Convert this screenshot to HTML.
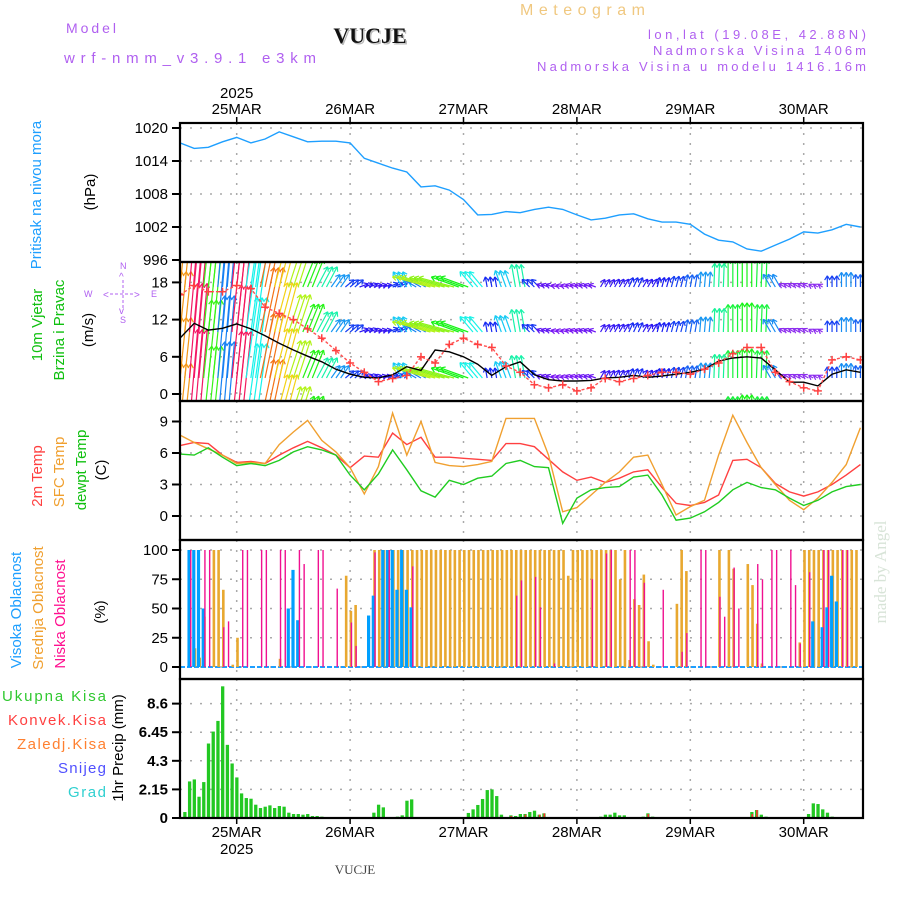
<!DOCTYPE html>
<html><head><meta charset="utf-8"><style>
html,body{margin:0;padding:0;background:#fff;}
svg{display:block;}
text{font-family:"Liberation Sans",sans-serif;}
</style></head><body>
<svg id="chart" width="900" height="900" viewBox="0 0 900 900" xmlns="http://www.w3.org/2000/svg">
<defs><clipPath id="windclip"><rect x="180" y="262" width="683" height="139"/></clipPath>
<clipPath id="presclip"><rect x="180" y="123" width="683" height="139"/></clipPath></defs>
<g>
<text x="66" y="33" fill="#b060f0" font-size="14" textLength="50">Model</text>
<text x="64" y="63" fill="#b060f0" font-size="15" textLength="252">wrf-nmm_v3.9.1 e3km</text>
<text x="370" y="43" fill="#bbb" font-size="22" font-weight="bold" text-anchor="middle" style="font-family:'Liberation Serif',serif" transform="translate(1.5,1.5)">VUCJE</text>
<text x="370" y="43" fill="#111" font-size="22" font-weight="bold" text-anchor="middle" style="font-family:'Liberation Serif',serif">VUCJE</text>
<text x="520" y="15" fill="#f0c880" font-size="16" textLength="125">Meteogram</text>
<text x="866" y="39" fill="#b060f0" font-size="13" text-anchor="end" textLength="218">lon,lat (19.08E, 42.88N)</text>
<text x="866" y="55" fill="#b060f0" font-size="13" text-anchor="end" textLength="213">Nadmorska Visina 1406m</text>
<text x="866" y="71" fill="#b060f0" font-size="13" text-anchor="end" textLength="329">Nadmorska Visina u modelu 1416.16m</text>
</g>
<g id="labels">
<text transform="translate(41,195) rotate(-90)" fill="#1e9fff" font-size="15" text-anchor="middle">Pritisak na nivou mora</text>
<text transform="translate(95,192) rotate(-90)" fill="#000" font-size="15" text-anchor="middle">(hPa)</text>
<text transform="translate(42,325) rotate(-90)" fill="#10c010" font-size="15" text-anchor="middle">10m Vjetar</text>
<text transform="translate(64,330) rotate(-90)" fill="#10c010" font-size="15" text-anchor="middle">Brzina i Pravac</text>
<text transform="translate(93,330) rotate(-90)" fill="#000" font-size="15" text-anchor="middle">(m/s)</text>
<g fill="#b060f0" font-size="9">
<text x="120" y="269">N</text><text x="120" y="323">S</text><text x="84" y="297">W</text><text x="151" y="297">E</text>
<text x="119" y="280" font-size="10">^</text><text x="103" y="298" font-size="10">&lt;</text><text x="134" y="298" font-size="10">&gt;</text><text x="119" y="314" font-size="10">v</text>
<line x1="110" y1="294" x2="133" y2="294" stroke="#b060f0" stroke-dasharray="3,2"/><line x1="123" y1="280" x2="123" y2="308" stroke="#b060f0" stroke-dasharray="3,2"/>
</g>
<text transform="translate(42,476) rotate(-90)" fill="#ff4040" font-size="15" text-anchor="middle">2m Temp</text>
<text transform="translate(64,472) rotate(-90)" fill="#f0a030" font-size="15" text-anchor="middle">SFC Temp</text>
<text transform="translate(86,470) rotate(-90)" fill="#10c010" font-size="15" text-anchor="middle">dewpt Temp</text>
<text transform="translate(106,470) rotate(-90)" fill="#000" font-size="15" text-anchor="middle">(C)</text>
<text transform="translate(21,610) rotate(-90)" fill="#1e9fff" font-size="15" text-anchor="middle">Visoka Oblacnost</text>
<text transform="translate(43,608) rotate(-90)" fill="#f0a030" font-size="15" text-anchor="middle">Srednja Oblacnost</text>
<text transform="translate(65,614) rotate(-90)" fill="#ff1090" font-size="15" text-anchor="middle">Niska Oblacnost</text>
<text transform="translate(105,612) rotate(-90)" fill="#000" font-size="15" text-anchor="middle">(%)</text>
<g font-size="15" text-anchor="end">
<text x="106" y="701" fill="#30c830" textLength="104">Ukupna Kisa</text>
<text x="106" y="725" fill="#ff4040" textLength="98">Konvek.Kisa</text>
<text x="106" y="749" fill="#ff8030" textLength="89">Zaledj.Kisa</text>
<text x="106" y="773" fill="#5050ff" textLength="48">Snijeg</text>
<text x="106" y="797" fill="#30d0d0" textLength="38">Grad</text>
</g>
<text transform="translate(123,748) rotate(-90)" fill="#000" font-size="15" text-anchor="middle">1hr Precip (mm)</text>
<text transform="translate(886,572) rotate(-90)" fill="#d8e4d8" font-size="17" text-anchor="middle" style="font-family:'Liberation Serif',serif">made by Angel</text>
<text x="355" y="874" fill="#444" font-size="13" text-anchor="middle" style="font-family:'Liberation Serif',serif">VUCJE</text>
</g>
<g id="plot"></g>
</svg>
<script>
const dayLabels = ["25MAR","26MAR","27MAR","28MAR","29MAR","30MAR"];
const dayHours = [12,36,60,84,108,132];
const presTicks = [1020,1014,1008,1002,996];
const windTicks = [18,12,6,0];
const tempTicks = [9,6,3,0];
const cloudTicks = [100,75,50,25,0];
const precipTicks = [8.6,6.45,4.3,2.15,0];
// 3-hourly series, starting 24MAR 12Z
const pressure = [1017.3,1016.3,1016.5,1017.5,1018.3,1017.3,1018,1019.3,1018.4,1017.5,1017.6,1017.6,1017.3,1014.5,1013.6,1012.7,1012,1009.3,1009.5,1008.7,1007,1004.2,1004.3,1004.8,1004.6,1005.2,1005.6,1005.2,1004.2,1003.3,1003.6,1004.2,1004.4,1003.5,1002.9,1002.9,1002.5,1000.7,999.6,999.3,998,997.6,998.7,999.8,1001.1,1000.9,1001.5,1002.5,1002];
const windSpeed = [9,11.4,10.3,10.6,11.3,10.5,9.4,8.2,7.1,6.1,5.2,4,3.2,2.7,2.6,3.1,4.4,3.8,7.1,6.8,6,4.8,3,4.4,5.2,3.1,2.3,2.1,2.1,2.2,2.6,2.7,3,2.7,2.9,3.2,3.5,4,5.3,5.8,6,5.8,3.9,1.9,1.9,1.3,3.2,3.9,3.5];
const windGust = [16,17.5,16.5,16.5,17.5,17,14,13,12,10.5,9,7,5,3.5,2,2.5,3,6,5,8,9,8,7.5,4.5,3.5,1.5,1,1.5,0.5,1,2.5,2,2.5,3,3.5,3.5,3.2,4,5,6.5,7.5,7.5,3.5,2,1,0.5,5.5,6,5.5];
const windAngle = [84,85,84,85,84,82,78,75,72,68,62,55,40,20,15,20,120,150,165,165,160,130,100,110,100,135,160,165,160,160,60,60,65,60,75,75,80,85,88,90,90,88,120,150,150,150,90,90,90];
const temp2m = [6.7,7,6.9,5.8,5.1,5.2,5,5.8,6.5,7.1,6.5,5.8,4.6,5.7,5.6,7.9,6.8,7.5,5.6,5.6,5.5,5.4,5.3,6.9,6.9,6.6,5.4,4.2,3.4,3.7,3.2,3.6,4.2,4.4,2.7,1.2,1,1.3,2,5.3,5.4,4.6,3.1,2.3,1.9,2.3,3,3.9,4.9];
const tempSfc = [7.7,7,6.4,5.8,5,5.1,5,6.8,8,9.1,7.2,6.1,4.6,2.1,4.7,9.8,5.8,9,5.1,4.8,4.7,4.9,5.2,9.3,9.3,9.3,5.8,0.4,0.8,2,3.2,4.2,5.6,5.8,3,0.1,0.9,1.5,5.8,9.6,7,4.6,3,1.5,0.6,1.7,3.2,4.9,8.4];
const dewpt = [5.9,5.8,6.5,5.6,4.8,5,4.8,5.3,6.1,6.6,6.3,5.8,3.9,2.5,4,6.3,4.4,2.4,1.8,3.4,3,3.6,3.8,5,5.3,4.7,4.6,-0.7,1.7,2.5,2.7,2.8,3.7,3.9,2,-0.4,-0.2,0.4,1.3,2.5,3.2,2.7,2.5,1.7,1,1.5,2.3,2.8,3];
// cloud cover, sparse hourly
const highHours = [2,3,4,5,23,24,25,40,41,43,44,45,46,47,48,49,134,136,137,138,139];
const highVals  = [100,100,100,50,50,83,40,44,61,100,100,100,66,100,66,51,39,34,51,78,56];
const midVals = [0,0,0,16,8,43,0,100,100,66,0,2,25,0,0,0,0,0,0,0,0,7,0,0,0,0,0,0,0,0,0,0,0,0,0,78,48,53,0,0,0,
100,100,100,100,100,100,100,100,100,100,100,100,100,100,100,100,100,100,100,100,100,100,100,100,100,100,100,100,100,
100,100,100,100,100,100,100,100,100,100,100,100,78,100,100,100,100,100,100,100,100,100,100,75,100,6,58,53,79,22,2,
0,0,0,0,54,100,82,0,0,0,0,0,0,100,0,100,84,0,0,88,70,37,3,0,0,0,0,0,0,0,21,100,100,100,100,100,100,100,100,100,100,100,100];
const lowHours = [2,5,6,9,10,13,14,17,18,21,22,25,26,29,30,33,36,37,41,44,49,71,72,75,76,79,87,90,91,95,96,98,102,106,107,110,111,114,115,117,118,122,123,125,126,129,130,131,133,136,137,140,141];
const lowVals  = [100,100,100,34,39,100,100,100,100,100,100,100,88,100,100,67,38,18,98,100,86,61,74,77,51,3,75,97,100,100,100,72,66,13,29,100,100,60,43,85,50,88,75,100,100,100,70,20,81,100,100,100,100];
// hourly precipitation (sparse)
const precipHours = [1,2,3,4,5,6,7,8,9,10,11,12,13,14,15,16,17,18,19,20,21,22,23,24,25,26,27,28,29,30,41,42,43,46,47,48,49,61,62,63,64,65,66,67,68,70,71,72,73,74,75,76,77,78,89,90,91,92,93,94,98,99,100,121,122,123,124,126,133,134,135,136,137,138];
const precipVals  = [0.45,2.75,2.9,1.6,2.7,5.6,6.5,7.3,9.9,5.5,4.1,3.05,1.85,1.5,1.45,1.0,0.75,0.85,0.95,0.75,0.9,0.85,0.4,0.3,0.3,0.25,0.3,0.15,0.15,0.1,0.4,1.0,0.8,0.1,0.2,1.3,1.4,0.38,0.65,0.98,1.43,2.1,2.15,1.65,0.25,0.2,0.15,0.3,0.3,0.45,0.55,0.25,0.35,0.05,0.1,0.25,0.25,0.4,0.2,0.2,0.1,0.35,0.1,0.45,0.6,0.25,0.1,0.05,0.3,1.1,1.05,0.65,0.4,0.1];
const convHours = [70,73,76,77,99,121,122];
const convVals  = [0.15,0.25,0.25,0.35,0.3,0.3,0.6];

const NS="http://www.w3.org/2000/svg";
const plot=document.getElementById('plot');
const X0=180, X1=863, PXH=4.725;
const xh = h => X0 + h*PXH;
const yPres = v => 260 - (v-996)*5.5;
const yWind = v => 394 - v*6.2;
const yTemp = v => 516 - v*10.5;
const yCloud = v => 667 - v*1.17;
const yPrec = v => 818 - v*13.3;
function mk(tag, attrs, parent){const e=document.createElementNS(NS,tag);for(const k in attrs)e.setAttribute(k,attrs[k]);(parent||plot).appendChild(e);return e;}
const panels=[
 {top:123,bot:262,ticks:presTicks,y:yPres,name:'pressure',fmt:v=>v,bold:false},
 {top:262,bot:401,ticks:windTicks,y:yWind,name:'wind',fmt:v=>v,bold:false},
 {top:401,bot:540,ticks:tempTicks,y:yTemp,name:'temperature',fmt:v=>v,bold:false},
 {top:540,bot:679,ticks:cloudTicks,y:yCloud,name:'cloud',fmt:v=>v,bold:false},
 {top:679,bot:818,ticks:precipTicks,y:yPrec,name:'precip',fmt:v=>v,bold:true}];
panels.forEach(p=>{
  const g=mk('g',{});
  
  
  p.ticks.forEach(t=>{const y=p.y(t);
    if(y>p.top+2&&y<p.bot-2) mk('line',{x1:X0,x2:X1,y1:y,y2:y,stroke:'#aaa','stroke-width':1.5,'stroke-dasharray':'2,8'},g);
    mk('line',{x1:X0-8,x2:X0,y1:y,y2:y,stroke:'#000','stroke-width':2},g);
    const tx=mk('text',{x:X0-12,y:y+5,'font-size':15,'text-anchor':'end',fill:'#000','font-weight':p.bold?'bold':'normal'},g);
    tx.textContent=p.fmt(t);
    
    
  });
  dayHours.forEach(h=>{mk('line',{x1:xh(h),x2:xh(h),y1:p.top,y2:p.bot,stroke:'#aaa','stroke-width':1.5,'stroke-dasharray':'2,8'},g);});
});
dayHours.forEach((h,i)=>{
  const t=mk('text',{x:xh(h),y:114,'font-size':15,'text-anchor':'middle'});t.textContent=dayLabels[i];
  
  
  mk('line',{x1:xh(h),x2:xh(h),y1:117,y2:123,stroke:'#000','stroke-width':1.5});
  const b=mk('text',{x:xh(h),y:837,'font-size':15,'text-anchor':'middle'});b.textContent=dayLabels[i];
  
  
  mk('line',{x1:xh(h),x2:xh(h),y1:818,y2:824,stroke:'#000','stroke-width':1.5});
});
const y1=mk('text',{x:xh(12),y:98,'font-size':15,'text-anchor':'middle'});y1.textContent='2025';


const y2=mk('text',{x:xh(12),y:854,'font-size':15,'text-anchor':'middle'});y2.textContent='2025';



function line(arr,yf,color,name,clip){
  const pts=arr.map((v,i)=>xh(i*3).toFixed(1)+','+yf(v).toFixed(1)).join(' ');
  const a={points:pts,fill:'none',stroke:color,'stroke-width':1.4};
  if(clip)a['clip-path']='url(#'+clip+')';
  const e=mk('polyline',a);
  
  
  return e;
}
line(pressure,yPres,'#1e9fff','pressure-line','presclip');

function windColor(s){
  const stops=[[2,270],[3,235],[4,205],[5,170],[6,120],[7,80],[8,55],[9,35],[10,10],[11,345],[12,330]];
  if(s<=2)return 'hsl(270,85%,55%)';
  for(let i=1;i<stops.length;i++){if(s<=stops[i][0]){const a=stops[i-1],b=stops[i],f=(s-a[0])/(b[0]-a[0]);return 'hsl('+(a[1]+(b[1]-a[1])*f).toFixed(0)+',90%,52%)';}}
  return 'hsl(330,90%,52%)';
}
const wg=mk('g',{'clip-path':'url(#windclip)'});


const rows=[241,287,332,378,424];
windSpeed.forEach((s,i)=>{
  const len=4+0.7*s*s, ang=windAngle[i]*Math.PI/180, col=windColor(s);
  [-1,0,1].forEach(k=>{
    const x=xh(i*3)+k*PXH;
    rows.forEach(r=>{
      const tx=x+len*Math.cos(ang), ty=r-len*Math.sin(ang);
      const ag=mk('g',{stroke:col,'stroke-width':1.2,fill:'none'},wg);
      
      
      mk('line',{x1:x,y1:r,x2:tx,y2:ty},ag);
      const h=5;
      [ang+Math.PI*0.82,ang-Math.PI*0.82].forEach(b=>mk('line',{x1:tx,y1:ty,x2:tx+h*Math.cos(b),y2:ty-h*Math.sin(b)},ag));
    });
  });
});
line(windSpeed,yWind,'#000','wind-speed-line','windclip');
const gl=line(windGust,yWind,'#ff5050','wind-gust-line','windclip');gl.setAttribute('stroke-dasharray','3,2');
const gg=mk('g',{stroke:'#ff4040','stroke-width':1.5,'clip-path':'url(#windclip)'});


windGust.forEach((v,i)=>{const x=xh(i*3),y=yWind(v);mk('line',{x1:x-4,x2:x+4,y1:y,y2:y},gg);mk('line',{x1:x,x2:x,y1:y-4,y2:y+4},gg);});

line(temp2m,yTemp,'#ff4040','temp-2m-line');
line(tempSfc,yTemp,'#f0a030','temp-sfc-line');
line(dewpt,yTemp,'#20cc20','dewpoint-line');

const zb=mk('line',{x1:X0,x2:X1,y1:667,y2:667,stroke:'#1e9fff','stroke-width':2,'stroke-dasharray':'5,2'});


midVals.forEach((v,h)=>{if(v>0){const r=mk('rect',{x:xh(h)-0.5,y:yCloud(v),width:2.6,height:667-yCloud(v),fill:'#e8a830'});
  
  }});
highHours.forEach((h,i)=>{const v=highVals[i];const r=mk('rect',{x:xh(h)-2,y:yCloud(v),width:3.2,height:667-yCloud(v),fill:'#00a0ff'});
  
  });
lowHours.forEach((h,i)=>{const v=lowVals[i];const r=mk('rect',{x:xh(h)+0.6,y:yCloud(v),width:1.4,height:667-yCloud(v),fill:'#f01090'});
  
  });

precipHours.forEach((h,i)=>{const v=precipVals[i];const r=mk('rect',{x:xh(h)-1.5,y:yPrec(v),width:3.3,height:818-yPrec(v),fill:'#22c822'});
  
  });
convHours.forEach((h,i)=>{const v=convVals[i];const r=mk('rect',{x:xh(h)-0.3,y:yPrec(v),width:1.6,height:818-yPrec(v),fill:'#ff3030'});
  
  });

panels.forEach(p=>{const r=mk('rect',{x:X0,y:p.top,width:X1-X0,height:p.bot-p.top,fill:'none',stroke:'#000','stroke-width':2.2});
  
  });
</script>
</body></html>
